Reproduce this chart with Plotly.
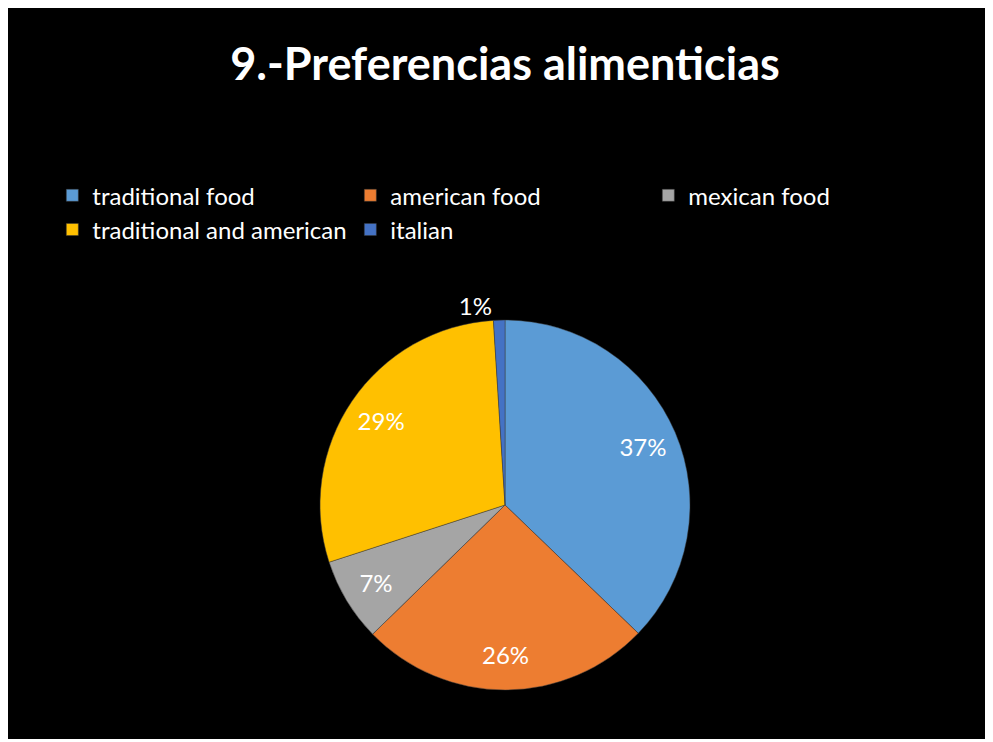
import plotly.graph_objects as go

categorias = ["traditional food", "american food", "mexican food",
              "traditional and american", "italian"]
valores = [37.2, 25.5, 7.3, 29.0, 1.0]
colores = ["#5B9BD5", "#ED7D31", "#A5A5A5", "#FFC000", "#4472C4"]
posiciones = ["inside", "inside", "inside", "inside", "outside"]

W, H = 985, 731
dominio = dict(x=[0.3168, 0.6924], y=[0.0670, 0.5732])

fig = go.Figure()

# pastel principal, sin texto
fig.add_trace(go.Pie(
    labels=categorias,
    values=valores,
    sort=False,
    direction="clockwise",
    rotation=0,
    marker=dict(colors=colores, line=dict(color="rgba(60,60,60,0.8)", width=0.6)),
    textinfo="none",
    hoverinfo="label+percent",
    domain=dominio,
))

# capa transparente en anillo para colocar las etiquetas mas hacia fuera
fig.add_trace(go.Pie(
    labels=categorias,
    values=valores,
    sort=False,
    direction="clockwise",
    rotation=0,
    hole=0.62,
    marker=dict(colors=["rgba(0,0,0,0)"] * len(categorias), line=dict(width=0)),
    texttemplate="%{percent:.0%}",
    textposition=posiciones,
    insidetextorientation="horizontal",
    textfont=dict(family="Lato", size=24, color="white"),
    hoverinfo="skip",
    showlegend=False,
    domain=dominio,
))

fig.update_layout(
    width=W,
    height=H,
    paper_bgcolor="black",
    plot_bgcolor="black",
    margin=dict(l=0, r=0, t=0, b=0),
    title=dict(
        text="<b>9.-Preferencias alimenticias</b>",
        x=0.5046, xanchor="center",
        y=0.945, yanchor="top",
        font=dict(family="Lato", size=45, color="white"),
    ),
    legend=dict(
        orientation="h",
        x=0.045, xanchor="left",
        y=0.774, yanchor="top",
        entrywidth=253, entrywidthmode="pixels",
        font=dict(family="Lato", size=24, color="white"),
        traceorder="normal",
    ),
    showlegend=True,
)

fig.write_html("out.html")
